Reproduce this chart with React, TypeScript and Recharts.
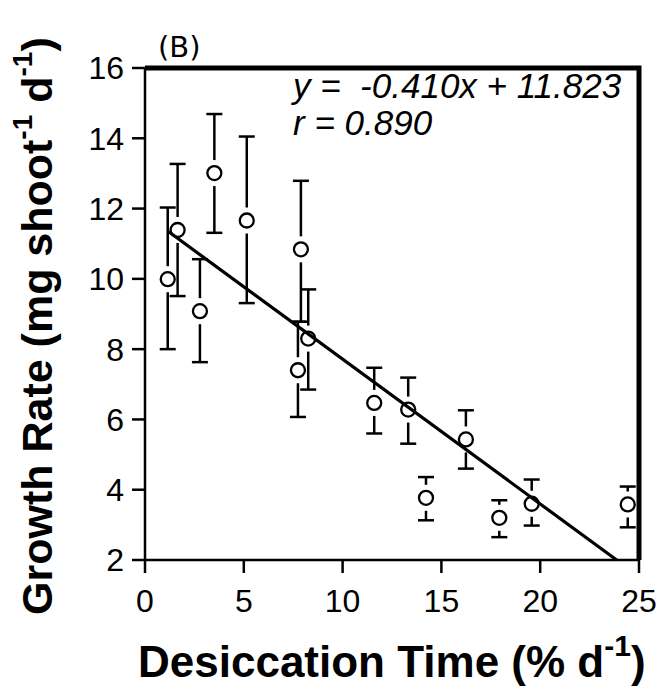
import React from 'react';
import { ComposedChart, Scatter, XAxis, YAxis, ErrorBar, ReferenceLine } from 'recharts';

// Desiccation time (% d-1)
const desiccation = [1.15, 1.65, 2.78, 3.51, 5.15, 7.74, 7.89, 8.26, 11.6, 13.32, 14.22, 16.24, 17.93, 19.57, 24.43];
// Growth rate (mg shoot-1 d-1)
const growth = [9.99, 11.39, 9.08, 13.01, 11.66, 7.4, 10.84, 8.3, 6.47, 6.28, 3.77, 5.43, 3.2, 3.6, 3.58];
// upper / lower ends of error bars
const growthHigh = [12.03, 13.27, 10.56, 14.69, 14.05, 8.78, 12.79, 9.7, 7.47, 7.19, 4.36, 6.26, 3.7, 4.29, 4.09];
const growthLow = [8.0, 9.51, 7.63, 11.31, 9.31, 6.07, 8.78, 6.85, 5.6, 5.31, 3.13, 4.6, 2.65, 2.98, 2.93];

// regression line end points
const fitX = [1.2, 23.87];
const fitY = [11.34, 2.0];

const xTicks = [0, 5, 10, 15, 20, 25];
const yTicks = [2, 4, 6, 8, 10, 12, 14, 16];

// plot frame (top and right edges) in data units
const frameX = [0, 25, 25];
const frameY = [16, 16, 2];

const points = desiccation.map((x, i) => ({
  x,
  y: growth[i],
  err: [growth[i] - growthLow[i], growthHigh[i] - growth[i]],
}));
const fitData = fitX.map((x, i) => ({ x, y: fitY[i] }));
const frameData = frameX.map((x, i) => ({ x, y: frameY[i] }));

const Empty = () => <g />;

const Ring = (props: any) => {
  const { cx, cy } = props;
  if (cx == null || cy == null) return <g />;
  return (
    <g>
      <rect x={cx - 3} y={cy - 13} width={6} height={26} fill="#fff" />
      <circle cx={cx} cy={cy} r={7} fill="#fff" stroke="#000" strokeWidth={2.3} />
    </g>
  );
};

const SANS = '"Liberation Sans", Arial, sans-serif';
const AX = { stroke: '#000', strokeWidth: 2.5 };

export default function App() {
  return (
    <div style={{ position: 'absolute', left: 0, top: 0, width: 660, height: 686, fontFamily: SANS, background: '#fff' }}>
      <ComposedChart
        width={660}
        height={686}
        margin={{ top: 68, right: 21, bottom: 66, left: 85 }}
      >
        <XAxis
          dataKey="x"
          type="number"
          domain={[0, 25]}
          ticks={xTicks}
          height={60}
          tickSize={13}
          tickMargin={16}
          axisLine={AX}
          tickLine={AX}
          tick={{ fontSize: 32, fill: '#000', fontFamily: SANS }}
        />
        <YAxis
          dataKey="y"
          type="number"
          domain={[2, 16]}
          ticks={yTicks}
          width={60}
          tickSize={13}
          tickMargin={8}
          axisLine={AX}
          tickLine={AX}
          tick={{ fontSize: 32, fill: '#000', fontFamily: SANS }}
        />
        <ReferenceLine y={16} stroke="#000" strokeWidth={2.5} />
        <ReferenceLine x={25} stroke="#000" strokeWidth={2.5} />
        <Scatter
          data={frameData}
          shape={Empty}
          line={{ stroke: '#000', strokeWidth: 5 }}
          lineType="joint"
          isAnimationActive={false}
        />
        <Scatter data={points} shape={Empty} isAnimationActive={false}>
          <ErrorBar dataKey="err" direction="y" width={8} stroke="#000" strokeWidth={2.5} isAnimationActive={false} />
        </Scatter>
        <Scatter data={points} shape={Ring} isAnimationActive={false} />
        <Scatter
          data={fitData}
          shape={Empty}
          line={{ stroke: '#000', strokeWidth: 3.2 }}
          lineType="joint"
          isAnimationActive={false}
        />
      </ComposedChart>
      <svg
        width={660}
        height={686}
        style={{ position: 'absolute', left: 0, top: 0, pointerEvents: 'none', background: 'transparent' }}
        fill="none"
      >
        <text x={158} y={57} fontFamily='"DejaVu Sans", sans-serif' fontSize={29} fill="#000">(B)</text>
        <text x={293} y={98} fontFamily={SANS} fontStyle="italic" fontSize={35} fill="#000" style={{ whiteSpace: 'pre' }} xmlSpace="preserve">
          y =  -0.410x + 11.823
        </text>
        <text x={293} y={135} fontFamily={SANS} fontStyle="italic" fontSize={35} fill="#000">
          r = 0.890
        </text>
        <text x={138} y={677} fontFamily={SANS} fontWeight="bold" fontSize={44} fill="#000">
          Desiccation Time (% d
          <tspan dy={-21} fontSize={30}>-1</tspan>
          <tspan dy={21}>)</tspan>
        </text>
        <text
          x={52}
          y={615}
          transform="rotate(-90, 52, 615)"
          fontFamily={SANS}
          fontWeight="bold"
          fontSize={43}
          fill="#000"
        >
          Growth Rate (mg shoot
          <tspan dy={-20} fontSize={28}>-1</tspan>
          <tspan dy={20}> d</tspan>
          <tspan dy={-20} fontSize={28}>-1</tspan>
          <tspan dy={20}>)</tspan>
        </text>
      </svg>
    </div>
  );
}
